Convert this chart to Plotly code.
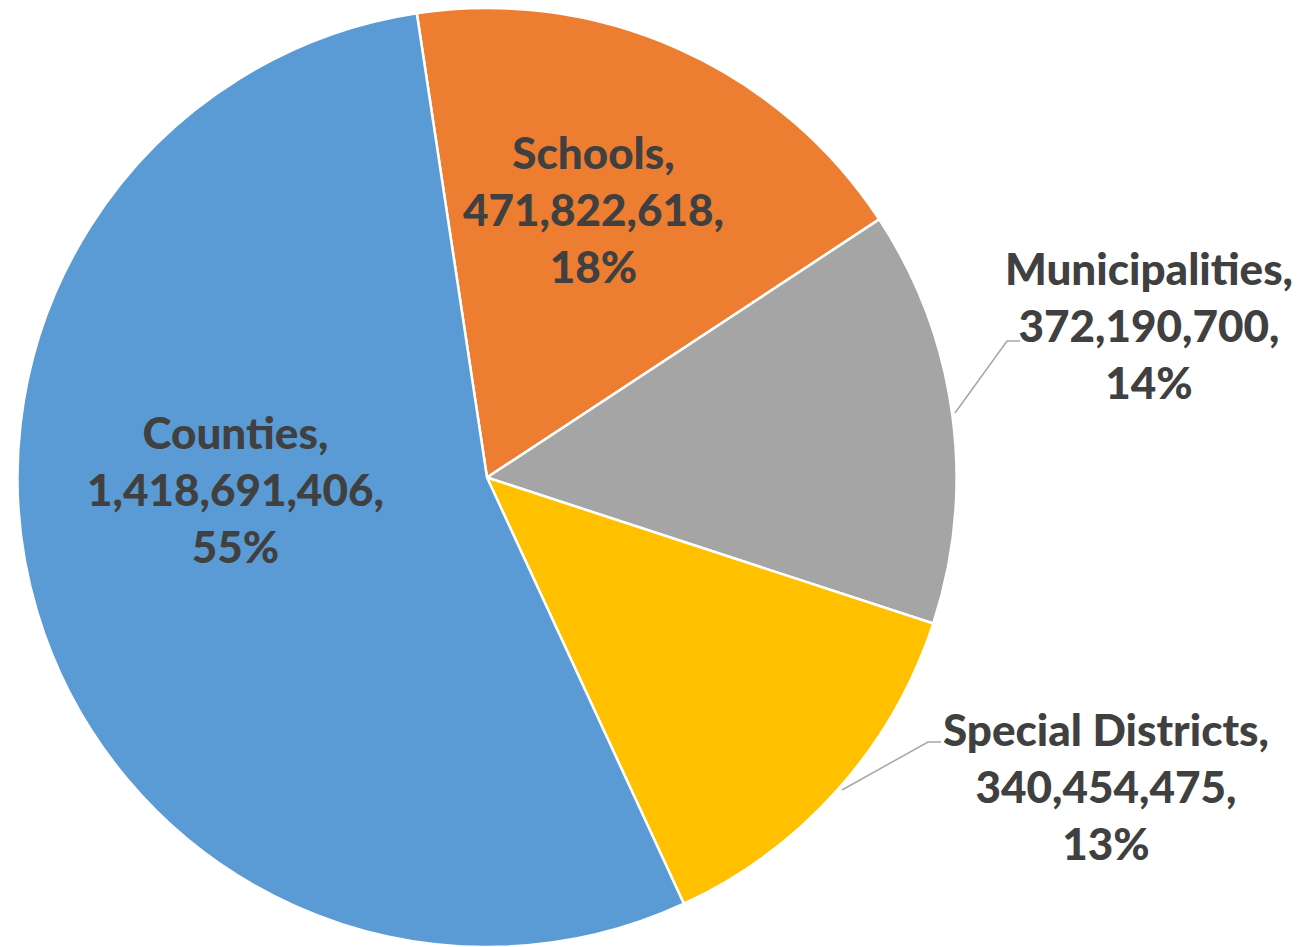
import plotly.graph_objects as go

# ---- data ----
categories = ["Schools", "Municipalities", "Special Districts", "Counties"]
values = [471822618, 372190700, 340454475, 1418691406]
pct_labels = [18, 14, 13, 55]
colors = ["#ED7D31", "#A5A5A5", "#FFC000", "#5B9BD5"]

W, H = 1309, 947
PAGE_OFFSET = 8  # body margin of the page


def px(x):
    return (x - PAGE_OFFSET) / W


def py(y):
    return min(1.0, max(0.0, 1 - (y - PAGE_OFFSET) / H))


fig = go.Figure()
fig.add_trace(go.Pie(
    labels=categories,
    values=values,
    sort=False,
    direction="clockwise",
    rotation=-8.6,
    marker=dict(colors=colors, line=dict(color="white", width=2.5)),
    textinfo="none",
    hoverinfo="label+value+percent",
    domain=dict(x=[px(17), px(957)], y=[py(947), py(8)]),
    showlegend=False,
))

# label placement (pixel layout positions of label block centres)
label_pos = {
    "Schools": (593, 209),
    "Municipalities": (1149, 325),
    "Special Districts": (1106, 786),
    "Counties": (235, 489),
}

annotations = []
for cat, v, pct in zip(categories, values, pct_labels):
    text = f"{cat},<br>{v:,},<br>{pct}%"
    x, y = label_pos[cat]
    annotations.append(dict(
        x=px(x), y=py(y), xref="paper", yref="paper",
        text=text, showarrow=False, xanchor="center", yanchor="middle",
        align="center",
        font=dict(family="Lato", size=44, color="#404040", weight=900),
    ))

# leader lines for outside labels
leaders = [
    [(955, 413), (1007, 341), (1020, 341)],
    [(842, 790), (928, 742), (941, 742)],
]
shapes = []
for pts in leaders:
    path = "M " + " L ".join(f"{px(a)},{py(b)}" for a, b in pts)
    shapes.append(dict(type="path", path=path, xref="paper", yref="paper",
                       line=dict(color="#A6A6A6", width=1.5)))

fig.update_layout(
    width=W, height=H,
    margin=dict(l=0, r=0, t=0, b=0),
    paper_bgcolor="white",
    plot_bgcolor="white",
    annotations=annotations,
    shapes=shapes,
)

fig.write_html("out.html")
